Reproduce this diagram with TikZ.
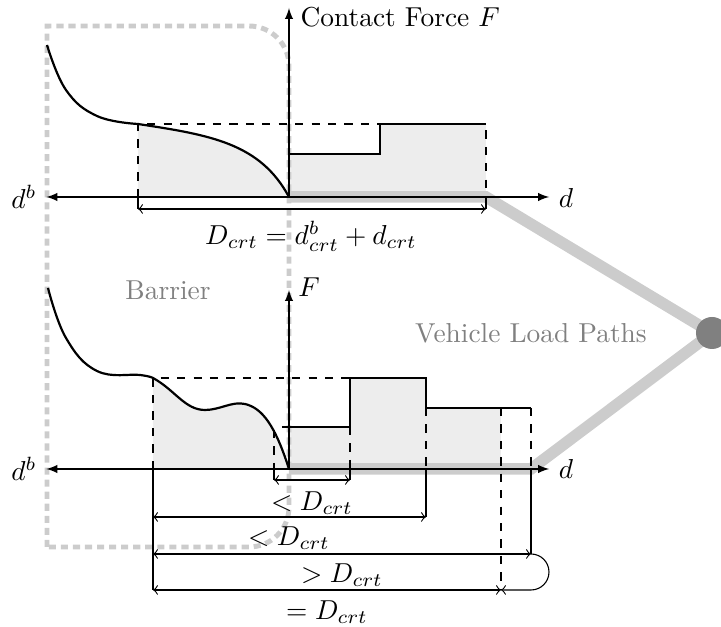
\documentclass[tikz,border=0pt]{standalone}
\usepackage{amsmath}
\usepackage{tikz}

\begin{document}
\begin{tikzpicture}[x=0.365pt, y=-0.365pt,
	area/.style={fill=black!7},
	loadpath/.style={draw=black!20, line width=4.2pt},
	barrier/.style={draw=black!20, line width=1.8pt, dash pattern=on 2.6pt off 1.8pt},
	guide/.style={dashed},
	axis/.style={latex-latex},
	faded/.style={text=black!50}]
	\useasboundingbox (0,0) rectangle (721,627);
	\coordinate (o1) at (289,197);
	\coordinate (o2) at (289,469);
	\coordinate (hub) at (712,333);
	% shaded areas
	\begin{scope}
		\clip (138,100) rectangle (289,197);
		\fill[area] plot[smooth, tension=0.7] coordinates {(47,45) (66,90) (97,116) (138,124)} .. controls (210,135) and (260,143) .. (289,197) -- (47,197) -- cycle;
	\end{scope}
	\fill[area] (289,197) |- (380,154) |- (486,124) -- (486,197) -- cycle;
	\begin{scope}
		\clip (153,300) rectangle (289,469);
		\fill[area] plot[smooth, tension=0.7] coordinates {(48,288) (66,338) (97,371) (140,375) (153,378)} .. controls (175,390) and (185,410) .. (205,410) .. controls (220,410) and (232,401) .. (245,404) .. controls (262,408) and (275,425) .. (289,469) -- (48,469) -- cycle;
	\end{scope}
	\fill[area] (289,469) |- (350,427) |- (426,378) |- (501,408) -- (501,469) -- cycle;
	% load paths
	\draw[loadpath] (o1) -- (486,197) -- (hub);
	\draw[loadpath] (o2) -- (531,469) -- (hub);
	\node[circle, fill=black!50, minimum size=32pt*0.365, inner sep=0] (hubdot) at (hub) {};
	% barrier outline
	\draw[barrier] (47,547) -- (47,26) -- (150,26) [rounded corners=14.6pt] -- (289,26) -- (289,547) -- (150,547) -- (47,547);
	\node[faded] (barrier) at (168,290) {Barrier};
	\node[faded] (vehicle) at (531,333) {Vehicle Load Paths};
	% top graph
	\node (db1) at (24,197) {$d^b$};
	\node (d1) at (566,198) {$d$};
	\node[anchor=west] (f1) at (291,17) {Contact Force $F$};
	\draw[guide] (138,197) -- (138,124) -- (486,124) -- (486,197);
	\draw (138,197) -- (138,209);
	\draw (486,197) -- (486,209);
	\draw[thick] plot[smooth, tension=0.7] coordinates {(47,45) (66,90) (97,116) (138,124)} .. controls (210,135) and (260,143) .. (289,197);
	\draw[thick] (289,154) -- (380,154) -- (380,124) -- (486,124);
	\draw[axis] (o1 -| db1.east) -- (o1 -| d1.west);
	\draw[-latex] (o1) -- (289,8);
	\draw[<->] (138,209) -- (486,209);
	\node (dtot) at (311,236) {$D_{crt} = d^b_{crt} + d_{crt}$};
	% bottom graph
	\node (db2) at (24,469) {$d^b$};
	\node (d2) at (566,469) {$d$};
	\node (f2) at (309,287) {$F$};
	\draw[guide] (153,469) -- (153,378) -- (426,378);
	\draw[guide] (274,430) -- (274,469);
	\draw[guide] (350,427) -- (350,469);
	\draw[guide] (426,408) -- (426,469);
	\draw[guide] (501,408) -- (501,590);
	\draw[guide] (531,408) -- (531,469);
	\draw (153,469) -- (153,590);
	\draw (274,469) -- (274,480);
	\draw (350,469) -- (350,480);
	\draw (426,469) -- (426,517);
	\draw (531,469) -- (531,554);
	\draw[thick] plot[smooth, tension=0.7] coordinates {(48,288) (66,338) (97,371) (140,375) (153,378)} .. controls (175,390) and (185,410) .. (205,410) .. controls (220,410) and (232,401) .. (245,404) .. controls (262,408) and (275,425) .. (289,469);
	\draw[thick] (282,427) -- (350,427) -- (350,378) -- (426,378) -- (426,408) -- (531,408);
	\draw[axis] (o2 -| db2.east) -- (o2 -| d2.west);
	\draw[-latex] (o2) -- (289,290);
	% dimensions
	\draw[<->] (274,480) -- (350,480);
	\node (lt1) at (312,503) {$< D_{crt}$};
	\draw[<->] (153,517) -- (426,517);
	\node (lt2) at (289,538) {$< D_{crt}$};
	\draw[<->] (153,554) -- (531,554);
	\draw[->] (531,554) arc[start angle=-90, end angle=90, radius=18] -- (501,590);
	\node (gt) at (342,575) {$> D_{crt}$};
	\draw[<->] (153,590) -- (501,590);
	\node (eq) at (327,612) {$= D_{crt}$};
\end{tikzpicture}
\end{document}
